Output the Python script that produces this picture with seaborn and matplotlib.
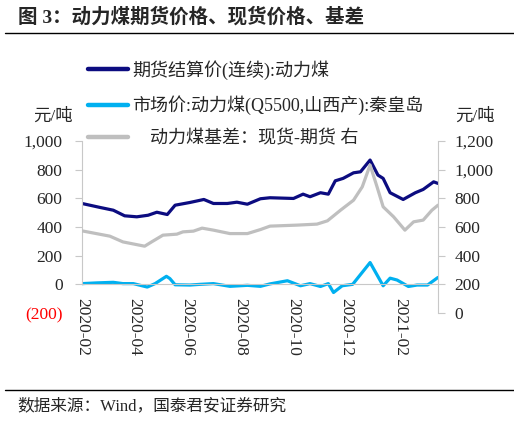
import pandas as pd
import seaborn as sns
import matplotlib.pyplot as plt
import matplotlib.dates as mdates
import matplotlib.ticker as mticker
from matplotlib.lines import Line2D

# 期货结算价(连续):动力煤  (left axis)
fut_dates = ["2020-02-01", "2020-02-22", "2020-03-08", "2020-03-21", "2020-04-04", "2020-04-17",
             "2020-04-27", "2020-05-09", "2020-05-18", "2020-06-04", "2020-06-20", "2020-07-01",
             "2020-07-17", "2020-07-28", "2020-08-09", "2020-08-24", "2020-09-04", "2020-10-01",
             "2020-10-12", "2020-10-20", "2020-11-01", "2020-11-10", "2020-11-18", "2020-11-27",
             "2020-12-09", "2020-12-17", "2020-12-28", "2021-01-06", "2021-01-12", "2021-01-20",
             "2021-02-04", "2021-02-18", "2021-02-27", "2021-03-11", "2021-03-16"]
fut_vals = [564, 536, 517, 478, 471, 482, 503, 487, 552, 571, 592, 564,
            564, 573, 559, 597, 604, 599, 629, 611, 639, 629, 722, 739,
            778, 785, 867, 762, 739, 639, 592, 639, 662, 715, 704]

# 市场价:动力煤(Q5500,山西产):秦皇岛  (left axis)
mkt_dates = ["2020-02-01", "2020-02-18", "2020-03-08", "2020-03-19", "2020-03-31", "2020-04-16",
             "2020-04-25", "2020-05-08", "2020-05-12", "2020-05-18", "2020-06-04", "2020-06-16",
             "2020-07-01", "2020-07-20", "2020-08-09", "2020-08-24", "2020-09-04", "2020-09-24",
             "2020-10-09", "2020-10-20", "2020-11-01", "2020-11-10", "2020-11-16", "2020-11-26",
             "2020-12-08", "2020-12-28", "2021-01-12", "2021-01-20", "2021-01-28", "2021-02-10",
             "2021-02-20", "2021-03-04", "2021-03-16"]
mkt_vals = [5, 10, 14, 5, 5, -19, 5, 56, 40, -3, -5, 0,
            5, -14, -7, -14, 3, 25, -10, 5, -15, 5, -57, -10,
            0, 152, -10, 43, 30, -15, -5, -5, 48]

# 动力煤基差：现货-期货  (right axis)
basis_dates = ["2020-02-01", "2020-03-04", "2020-03-19", "2020-04-13", "2020-04-21", "2020-05-04",
               "2020-05-20", "2020-05-27", "2020-06-08", "2020-06-18", "2020-07-01", "2020-07-20",
               "2020-08-09", "2020-08-24", "2020-09-04", "2020-10-05", "2020-10-28", "2020-11-09",
               "2020-11-24", "2020-12-09", "2020-12-19", "2020-12-28", "2021-01-05", "2021-01-12",
               "2021-01-24", "2021-02-06", "2021-02-16", "2021-02-27", "2021-03-09", "2021-03-16"]
basis_vals = [573, 536, 496, 466, 496, 543, 550, 566, 571, 592, 578, 554,
              554, 582, 606, 613, 620, 643, 717, 787, 880, 1032, 880, 741,
              671, 578, 636, 648, 717, 752]

labels = ["期货结算价(连续):动力煤",
          "市场价:动力煤(Q5500,山西产):秦皇岛",
          "    动力煤基差：现货-期货 右"]
colors = ["#0c0c80", "#00b0f0", "#bfbfbf"]

fut = pd.DataFrame({"date": pd.to_datetime(fut_dates), "value": fut_vals})
mkt = pd.DataFrame({"date": pd.to_datetime(mkt_dates), "value": mkt_vals})
basis = pd.DataFrame({"date": pd.to_datetime(basis_dates), "value": basis_vals})

sns.set_style("white")
plt.rcParams["font.family"] = ["Liberation Serif", "Noto Sans CJK SC"]
plt.rcParams["axes.unicode_minus"] = False

fig = plt.figure(figsize=(5.14, 4.24), dpi=100)
ax = fig.add_axes([0.1595, 0.2618, 0.6926, 0.4057])
ax2 = ax.twinx()

sns.lineplot(data=fut, x="date", y="value", ax=ax, color=colors[0], linewidth=2.3)
sns.lineplot(data=mkt, x="date", y="value", ax=ax, color=colors[1], linewidth=2.3)
sns.lineplot(data=basis, x="date", y="value", ax=ax2, color=colors[2], linewidth=2.3)

ax.set_xlim(pd.Timestamp("2020-02-01"), pd.Timestamp("2021-03-16"))
ax.set_ylim(-200, 1000)
ax2.set_ylim(0, 1200)
ax.set_xlabel("")
ax.set_ylabel("")
ax2.set_ylabel("")

ax.xaxis.set_major_locator(mdates.MonthLocator(bymonth=[2, 4, 6, 8, 10, 12]))
ax.xaxis.set_minor_locator(mdates.MonthLocator())
ax.xaxis.set_major_formatter(mdates.DateFormatter("%Y-%m"))
ax.set_yticks(range(-200, 1001, 200))
ax2.set_yticks(range(0, 1201, 200))


def left_fmt(v, pos):
    return f"({abs(v):,.0f})" if v < 0 else f"{v:,.0f}"


ax.yaxis.set_major_formatter(mticker.FuncFormatter(left_fmt))
ax2.yaxis.set_major_formatter(mticker.FuncFormatter(lambda v, p: f"{v:,.0f}"))

grey = "#c8c8c8"
for s in ["top", "right"]:
    ax.spines[s].set_visible(False)
for s in ["top", "left", "bottom"]:
    ax2.spines[s].set_visible(False)
ax.spines["left"].set_color(grey)
ax.spines["left"].set_bounds(0, 1000)
ax.spines["bottom"].set_color(grey)
ax.spines["bottom"].set_position(("data", 0))
ax2.spines["right"].set_color(grey)

ax.tick_params(axis="y", length=5, color=grey, pad=9, labelsize=12.5)
ax.tick_params(axis="x", which="both", length=4, color=grey, pad=6, labelsize=12.5)
ax.tick_params(axis="x", which="major", labelrotation=-90)
ax2.tick_params(axis="y", length=5, color=grey, pad=7, labelsize=12.5)

neg = ax.yaxis.get_major_ticks()[0]
neg.tick1line.set_visible(False)
neg.label1.set_color("#ff0000")

handles = [Line2D([], [], color=c, linewidth=3.2) for c in colors]
fig.legend(handles, labels, loc="upper left", bbox_to_anchor=(0.171, 0.858),
           frameon=False, fontsize=13, borderpad=0, borderaxespad=0,
           handlelength=2.2, handletextpad=0.25, labelspacing=0.85)

fig.text(0.103, 1 - 117 / 424, "元/吨", fontsize=12.5, ha="center", va="center")
fig.text(0.924, 1 - 117 / 424, "元/吨", fontsize=12.5, ha="center", va="center")

fig.text(0.035, 1 - 17 / 424, "图 3：动力煤期货价格、现货价格、基差", fontsize=14,
         fontweight="bold", ha="left", va="center")
fig.add_artist(Line2D([0.01, 1.0], [1 - 33 / 424] * 2, color="black", linewidth=1))
fig.add_artist(Line2D([0.01, 1.0], [1 - 390 / 424] * 2, color="black", linewidth=1))
fig.text(0.033, 1 - 406 / 424, "数据来源：Wind，国泰君安证券研究", fontsize=12,
         ha="left", va="center")

fig.savefig("out.png", dpi=100)
